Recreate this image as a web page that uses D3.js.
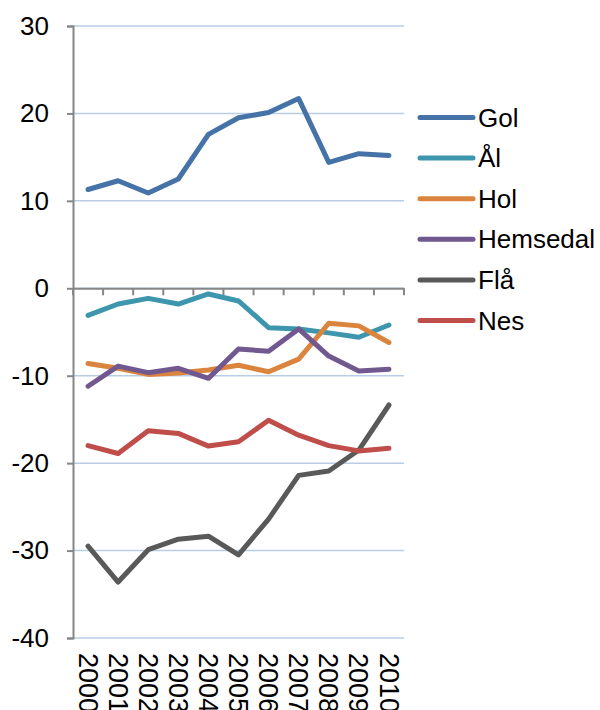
<!DOCTYPE html>
<html><head><meta charset="utf-8">
<script src="https://cdn.jsdelivr.net/npm/d3@7"></script>
<style>body{margin:0;background:#fff}svg{display:block}text{font-family:"Liberation Sans",Arial,sans-serif;fill:#000}</style>
</head><body>
<svg id="c" width="600" height="710"></svg>
<script>
const years = ["2000","2001","2002","2003","2004","2005","2006","2007","2008","2009","2010"];
const seriesNames = ["Gol","Ål","Hol","Hemsedal","Flå","Nes"];
const gol = [11.3,12.3,10.9,12.5,17.6,19.5,20.1,21.7,14.4,15.4,15.2];
const al = [-3.1,-1.8,-1.15,-1.8,-0.65,-1.45,-4.5,-4.65,-5.1,-5.6,-4.2];
const hol = [-8.6,-9.15,-9.85,-9.7,-9.35,-8.8,-9.55,-8.1,-4.0,-4.3,-6.2];
const hemsedal = [-11.2,-8.9,-9.65,-9.15,-10.3,-6.95,-7.2,-4.65,-7.75,-9.45,-9.25];
const fla = [-29.5,-33.6,-29.9,-28.7,-28.35,-30.5,-26.4,-21.4,-20.9,-18.5,-13.35];
const nes = [-18.0,-18.9,-16.3,-16.6,-18.05,-17.55,-15.1,-16.8,-18.0,-18.6,-18.3];
const yTicks = [-40,-30,-20,-10,0,10,20,30];
const colors = ["#4572A7","#3D96AE","#DB843D","#71588F","#595959","#BF4E4B"];
const values = [gol, al, hol, hemsedal, fla, nes];

const svg = d3.select("#c");
const x = d3.scaleBand().domain(years).range([73,404]);
const y = d3.scaleLinear().domain([-40,30]).range([638,26]);

// gridlines
svg.append("g").selectAll("line").data(yTicks).join("line")
  .attr("x1",73).attr("x2",404).attr("y1",d=>y(d)).attr("y2",d=>y(d))
  .attr("stroke","#B9CDE5").attr("stroke-width",1.5);

// y axis
const ya = svg.append("g").attr("transform","translate(73,0)")
  .call(d3.axisLeft(y).tickValues(yTicks).tickSize(6).tickPadding(18).tickFormat(d=>String(d)));
ya.select(".domain").attr("stroke","#868686").attr("stroke-width",2);
ya.selectAll(".tick line").attr("stroke","#868686").attr("stroke-width",2);
ya.selectAll("text").attr("font-size",26).attr("font-family","Liberation Sans, Arial, sans-serif").attr("fill","#000");

// x axis at 0
const xa = svg.append("g").attr("transform",`translate(0,${y(0)})`)
  .call(d3.axisBottom(x).tickSize(0).tickFormat(""));
xa.select(".domain").attr("stroke","#868686").attr("stroke-width",2);
xa.selectAll(".tick").remove();
const bounds = years.map(d=>x(d)).concat([x(years[years.length-1])+x.bandwidth()]);
xa.selectAll("line.tk").data(bounds).join("line").attr("class","tk")
  .attr("x1",d=>d).attr("x2",d=>d).attr("y1",0).attr("y2",7)
  .attr("stroke","#868686").attr("stroke-width",2);

// x labels
svg.append("g").selectAll("text").data(years).join("text")
  .attr("transform",d=>`translate(${x(d)+x.bandwidth()/2},653) rotate(90)`)
  .attr("dy","0.35em").attr("font-size",27).text(d=>d);

// lines
const line = d3.line().x((d,i)=>x(years[i])+x.bandwidth()/2).y(d=>y(d));
svg.append("g").selectAll("path").data(values).join("path")
  .attr("d",line).attr("fill","none").attr("stroke",(d,i)=>colors[i])
  .attr("stroke-width",5).attr("stroke-linejoin","round").attr("stroke-linecap","round");

// legend
const lg = svg.append("g").selectAll("g").data(seriesNames).join("g")
  .attr("transform",(d,i)=>`translate(0,${117.5+i*40.6})`);
lg.append("line").attr("x1",420).attr("x2",473).attr("y1",0).attr("y2",0)
  .attr("stroke",(d,i)=>colors[i]).attr("stroke-width",5).attr("stroke-linecap","round");
lg.append("text").attr("x",478).attr("dy","0.35em").attr("font-size",26).text(d=>d);
</script>
</body></html>
